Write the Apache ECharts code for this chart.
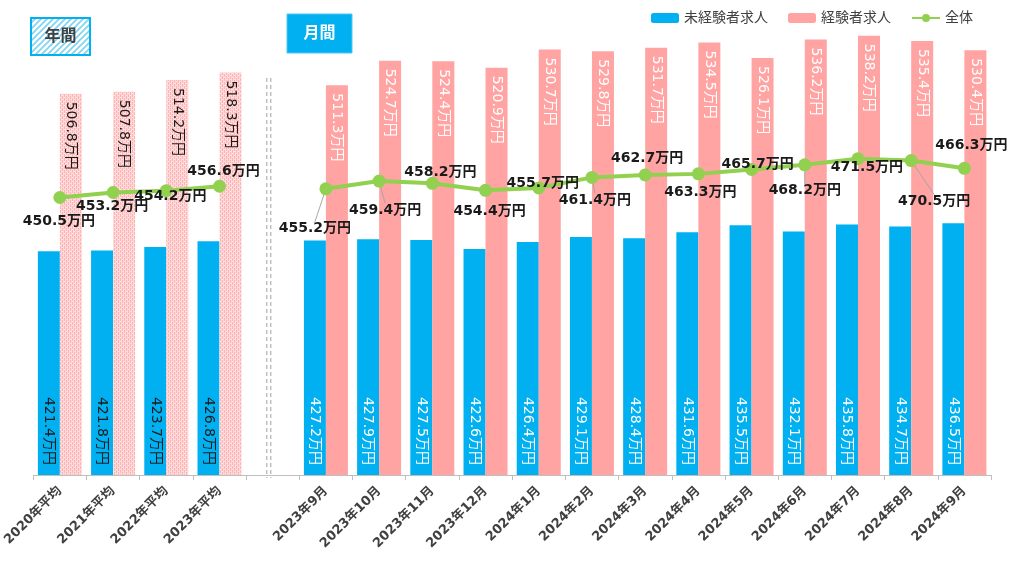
<!DOCTYPE html>
<html>
<head>
<meta charset="utf-8">
<script src="https://cdn.jsdelivr.net/npm/echarts@6/dist/echarts.min.js"></script>
<style>
html,body{margin:0;padding:0;background:#fff;}
#main{width:1024px;height:569px;}
</style>
</head>
<body>
<div id="main"></div>
<script>
// ---- data ----
const categories = ['2020年平均','2021年平均','2022年平均','2023年平均','',
  '2023年9月','2023年10月','2023年11月','2023年12月','2024年1月','2024年2月','2024年3月',
  '2024年4月','2024年5月','2024年6月','2024年7月','2024年8月','2024年9月'];
const inexperienced = [421.4,421.8,423.7,426.8,null,427.2,427.9,427.5,422.6,426.4,429.1,428.4,431.6,435.5,432.1,435.8,434.7,436.5];
const experienced   = [506.8,507.8,514.2,518.3,null,511.3,524.7,524.4,520.9,530.7,529.8,531.7,534.5,526.1,536.2,538.2,535.4,530.4];
const overall       = [450.5,453.2,454.2,456.6,null,455.2,459.4,458.2,454.4,455.7,461.4,462.7,463.3,465.7,468.2,471.5,470.5,466.3];
const seriesNames = ['未経験者求人','経験者求人','全体'];
const annualCount = 4; // first 4 categories are annual averages

// ---- layout/style helpers (not data) ----
const lineLabelOffsets = [[-1,24],[-1,14],[4,6],[4,-15],[0,0],[-11,40],[6,29],[8,-11],[4,21],[4,-5],[3,23],[2,-17],[2,18],[6,-5],[0,26],[9,9],[23,41],[7,-23]];
const lineLeader = [false,false,false,false,false,true,true,false,false,false,true,false,false,false,true,false,true,false];

function makePattern(w,h,draw){const c=document.createElement('canvas');c.width=w;c.height=h;const g=c.getContext('2d');draw(g);return c;}
const pinkPattern = makePattern(4,4,g=>{
  g.fillStyle='#ffb3b3';g.fillRect(0,0,4,4);
  g.fillStyle='#ffd9d9';g.fillRect(1,0,1,4);g.fillRect(3,0,1,4);
  g.fillStyle='#ffe8e8';g.fillRect(0,1,1,1);g.fillRect(2,3,1,1);
});
const bluePattern = makePattern(6,6,g=>{
  g.fillStyle='#ffffff';g.fillRect(0,0,6,6);
  g.strokeStyle='#7dd3f3';g.lineWidth=1.6;
  g.beginPath();g.moveTo(-1,7);g.lineTo(7,-1);g.moveTo(-4,4);g.lineTo(4,-4);g.moveTo(2,10);g.lineTo(10,2);g.stroke();
});

const BLUE='#00b0f0', PINK='#ffa3a3', GREEN='#92d050';
const FONT="'DejaVu Sans','Noto Sans CJK JP',sans-serif";
const fmt = v => (v==null?'':v.toFixed(1)+'万円');

const blueData = inexperienced.map((v,i)=> v==null?'-':{value:v,label:{color: i<annualCount?'#1a1a1a':'#ffffff'}});
const pinkData = experienced.map((v,i)=> v==null?'-':(i<annualCount?
  {value:v,itemStyle:{color:{image:pinkPattern,repeat:'repeat'}},label:{color:'#1a1a1a'}}:
  {value:v,label:{color:'#ffffff'}}));
const lineData = overall.map((v,i)=> v==null?'-':{value:v,labelLine:{show:lineLeader[i]}});

const chart = echarts.init(document.getElementById('main'));
const option = {
  animation:false,
  textStyle:{fontFamily:FONT},
  legend:{
    left:646, top:6, itemWidth:28, itemHeight:10, itemGap:20,
    textStyle:{fontSize:14,color:'#404040',fontFamily:FONT},
    data:seriesNames
  },
  grid:{left:33,right:33,top:14,bottom:94},
  xAxis:{
    type:'category', data:categories,
    axisLine:{lineStyle:{color:'#bfbfbf',width:1}},
    axisTick:{show:true,length:5,lineStyle:{color:'#bfbfbf'}},
    axisLabel:{interval:0,rotate:45,fontSize:13,fontWeight:'bold',color:'#404040',margin:14,fontFamily:FONT}
  },
  yAxis:{type:'value',min:300,max:550,show:false,splitLine:{show:false}},
  series:[
    {name:seriesNames[0],type:'bar',data:blueData,barWidth:22,barGap:'0%',
      itemStyle:{color:BLUE},
      label:{show:true,position:'insideBottom',rotate:-90,align:'right',verticalAlign:'middle',distance:10,
        fontSize:14,fontFamily:FONT,formatter:p=>fmt(p.value)}},
    {name:seriesNames[1],type:'bar',data:pinkData,barWidth:22,barGap:'0%',
      itemStyle:{color:PINK},
      label:{show:true,position:'insideTop',rotate:-90,align:'left',verticalAlign:'middle',distance:8,
        fontSize:14,fontFamily:FONT,formatter:p=>fmt(p.value)}},
    {name:seriesNames[2],type:'line',data:lineData,z:5,
      symbol:'circle',symbolSize:13,
      itemStyle:{color:GREEN},lineStyle:{color:GREEN,width:4},
      label:{show:true,position:'inside',fontSize:14,fontWeight:'bold',color:'#1a1a1a',fontFamily:FONT,
        formatter:p=>fmt(p.value)},
      labelLine:{show:false,lineStyle:{color:'#a6a6a6',width:1}},
      labelLayout:function(p){
        const o=lineLabelOffsets[p.dataIndex]||[0,0];
        return {x:p.rect.x+p.rect.width/2+o[0], y:p.rect.y+p.rect.height/2+o[1], align:'center', verticalAlign:'middle'};
      }}
  ]
};
chart.setOption(option);

// decorations: section boxes and separator between annual and monthly
const sepX = chart.convertToPixel({xAxisIndex:0}, 4);
const yBase = chart.convertToPixel({yAxisIndex:0}, 300);
chart.setOption({graphic:[
  {type:'rect',shape:{x:31,y:18,width:59,height:37},style:{fill:{image:bluePattern,repeat:'repeat'},stroke:BLUE,lineWidth:2}},
  {type:'text',style:{x:60.5,y:37,text:'年間',align:'center',verticalAlign:'middle',font:"bold 16px "+FONT,fill:'#404040'}},
  {type:'rect',shape:{x:287,y:14,width:65,height:39},style:{fill:BLUE,stroke:'#4cc8f4',lineWidth:1}},
  {type:'text',style:{x:319.5,y:34,text:'月間',align:'center',verticalAlign:'middle',font:"bold 16px "+FONT,fill:'#ffffff'}},
  {type:'line',shape:{x1:sepX-6,y1:78,x2:sepX-6,y2:yBase+3},style:{stroke:'#bfbfbf',lineWidth:1.5,lineDash:[4,3]}},
  {type:'line',shape:{x1:sepX-2,y1:78,x2:sepX-2,y2:yBase+3},style:{stroke:'#bfbfbf',lineWidth:1.5,lineDash:[4,3]}}
]});
</script>
</body>
</html>
